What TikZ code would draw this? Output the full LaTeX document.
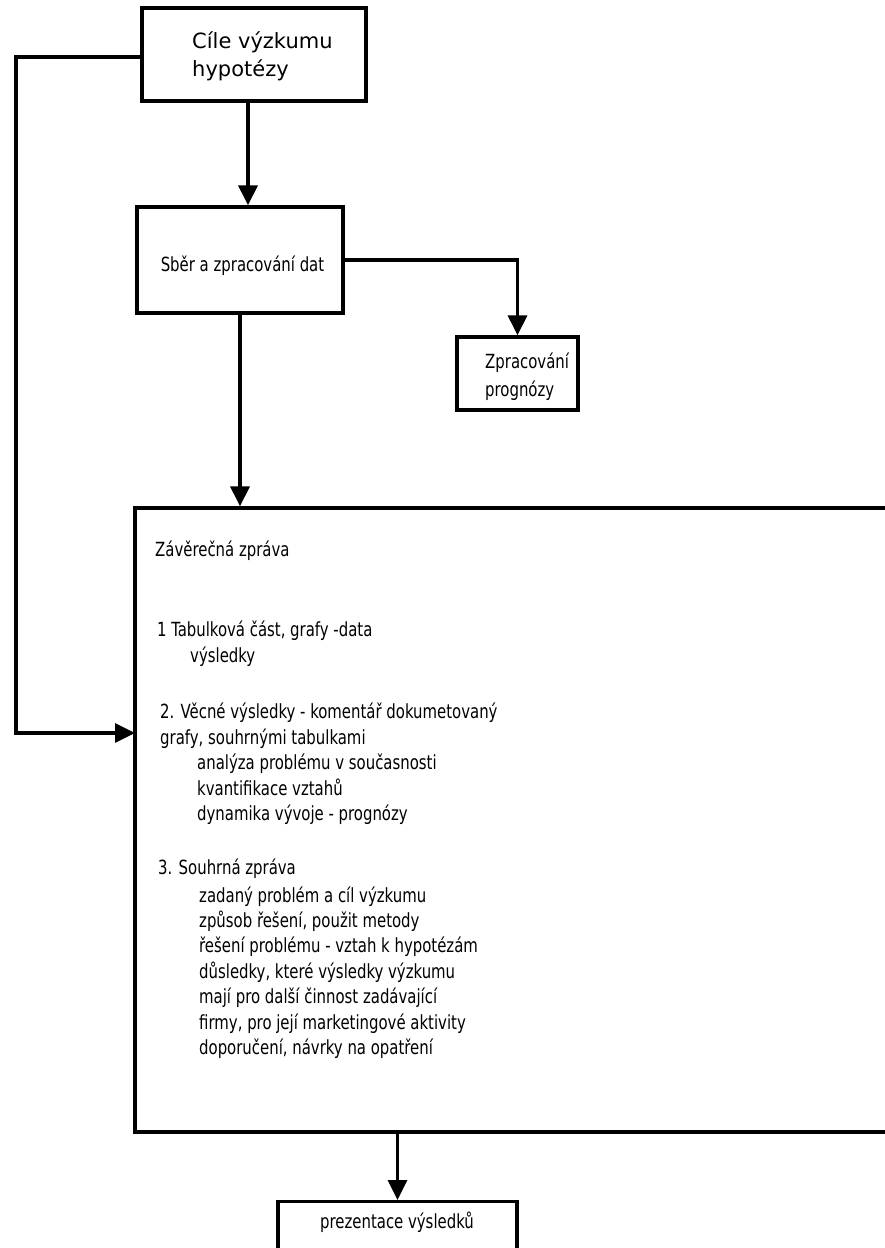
\documentclass[tikz,border=0pt]{standalone}
\usepackage{fontspec}
\setmainfont{DejaVu Sans Condensed}[FakeStretch=0.85]
\newfontfamily\goalfont{DejaVu Sans}
\usetikzlibrary{arrows.meta}

\tikzset{
  box/.style={draw, line width=3.3pt, inner sep=0pt},
  txt/.style={inner sep=0pt, anchor=base west},
  arr/.style={line width=3.3pt, -{Triangle[width=19pt,length=20pt]}},
}

\begin{document}
\begin{tikzpicture}[x=1pt, y=-1pt, font=\fontsize{19.5}{23}\selectfont]
  \useasboundingbox (0,0) rectangle (885,1248);

  % boxes of the flow
  \node[box, minimum width=224pt, minimum height=93pt] (goal) at (254,54.5) {};
  \node[box, minimum width=206pt, minimum height=106pt] (collect) at (240,260) {};
  \node[box, minimum width=121pt, minimum height=73pt] (forecast) at (517.5,373.5) {};
  \node[box, minimum width=760pt, minimum height=624pt] (report) at (515,820) {};
  \node[box, minimum width=239pt, minimum height=90pt, anchor=north] (present) at (397.5,1200) {};

  % texts in the boxes
  \node[txt, font=\goalfont\fontsize{21}{25}\selectfont] (goal1) at (192,48) {Cíle výzkumu};
  \node[txt, font=\goalfont\fontsize{21}{25}\selectfont] (goal2) at (192,76) {hypotézy};
  \node[txt, anchor=base] (collect1) at (242.5,271) {Sběr a zpracování dat};
  \node[txt] (forecast1) at (485,368) {Zpracování};
  \node[txt] (forecast2) at (485,396) {prognózy};
  \node[txt, anchor=base] (present1) at (397,1228) {prezentace výsledků};

  % text of the final report
  \foreach \x/\y/\t [count=\i] in {
      155/556/{Závěrečná zpráva},
      157/636/{1 Tabulková část, grafy -data},
      190/662/{výsledky},
      160/718/{2. Věcné výsledky - komentář dokumetovaný},
      160/744/{grafy, souhrnými tabulkami},
      197/769/{analýza problému v současnosti},
      197/795/{kvantifikace vztahů},
      197/820/{dynamika vývoje - prognózy},
      158/874/{3. Souhrná zpráva},
      199/902/{zadaný problém a cíl výzkumu},
      199/927/{způsob řešení, použit metody},
      199/952/{řešení problému - vztah k hypotézám},
      199/978/{důsledky, které výsledky výzkumu},
      199/1003/{mají pro další činnost zadávající},
      199/1029/{firmy, pro její marketingové aktivity},
      199/1054/{doporučení, návrky na opatření}}
    \node[txt] (report\i) at (\x,\y) {\t};

  % connectors
  \coordinate (turn) at (16,57);
  \coordinate (entry) at (135,733);
  \draw[arr] (goal.west |- turn) -- (turn) |- (entry);
  \draw[arr] ([xshift=-6pt]goal.south) -- ([xshift=-6pt]goal.south |- collect.north);
  \draw[arr] (collect.east) -| (forecast.north);
  \draw[arr] (collect.south) -- (collect.south |- report.north);
  \draw[arr] (report.south -| present.north) -- (present.north);
\end{tikzpicture}
\end{document}
